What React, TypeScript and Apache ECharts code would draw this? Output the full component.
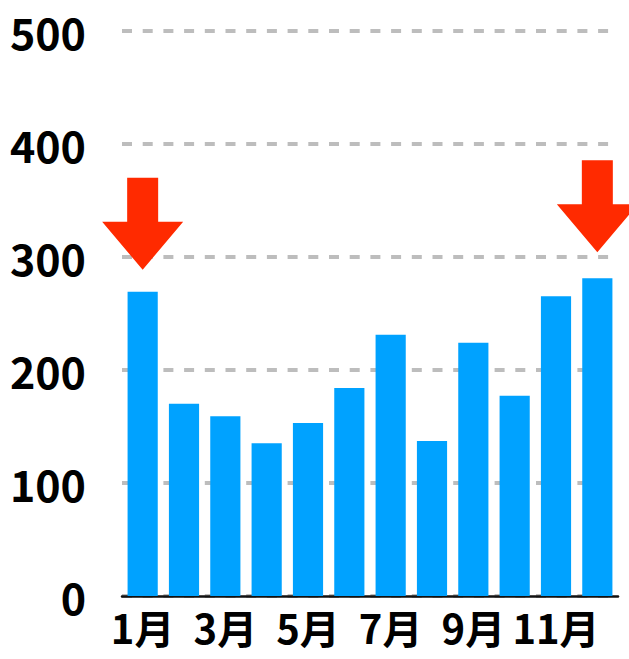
import React, { useEffect, useRef } from "react";
import * as echarts from "echarts";

const months = ["1月", "2月", "3月", "4月", "5月", "6月", "7月", "8月", "9月", "10月", "11月", "12月"];
const values = [269, 170, 159, 135, 153, 184, 231, 137, 224, 177, 265, 281];
const yTicks = { min: 0, max: 500, interval: 100 };
const arrowMonths = ["1月", "12月"];
const arrowOffsets = [-68, -72];

const ARROW = "path://M25 0 L56 0 L56 44 L81 44 L40.5 92 L0 44 L25 44 Z";

export default function App() {
  const ref = useRef<HTMLDivElement>(null);
  useEffect(() => {
    document.body.style.margin = "0";
    const chart = echarts.init(ref.current!, null, { renderer: "svg" });
    const font = '"Noto Sans CJK JP", "Noto Sans", sans-serif';
    chart.setOption({
      animation: false,
      backgroundColor: "#ffffff",
      grid: { left: 122, right: 11, top: 30.5, bottom: 63, containLabel: false },
      xAxis: {
        type: "category",
        data: months,
        axisLine: { show: true, lineStyle: { color: "#111111", width: 2.5 } },
        axisTick: { show: false },
        axisLabel: {
          interval: 1,
          fontFamily: font,
          fontWeight: "bold",
          fontSize: 40,
          color: "#000000",
          margin: 11,
        },
      },
      yAxis: {
        type: "value",
        min: yTicks.min,
        max: yTicks.max,
        interval: yTicks.interval,
        axisLine: { show: false },
        axisTick: { show: false },
        axisLabel: {
          fontFamily: font,
          fontWeight: "bold",
          fontSize: 43,
          color: "#000000",
          margin: 36,
        },
        splitLine: {
          show: true,
          lineStyle: { color: "#bdbdbd", width: 4, type: [10, 10.7] },
        },
      },
      series: [
        {
          type: "bar",
          data: values,
          barCategoryGap: "27%",
          itemStyle: { color: "#00a2ff" },
          markPoint: {
            symbol: ARROW,
            symbolSize: [81, 92],
            symbolKeepAspect: false,
            label: { show: false },
            itemStyle: { color: "#ff2a00" },
            data: arrowMonths.map((m, i) => ({
              coord: [m, values[months.indexOf(m)]],
              symbolOffset: [0, arrowOffsets[i]],
            })),
          },
        },
      ],
    });
    return () => chart.dispose();
  }, []);
  return <div ref={ref} style={{ width: 629, height: 659 }} />;
}
